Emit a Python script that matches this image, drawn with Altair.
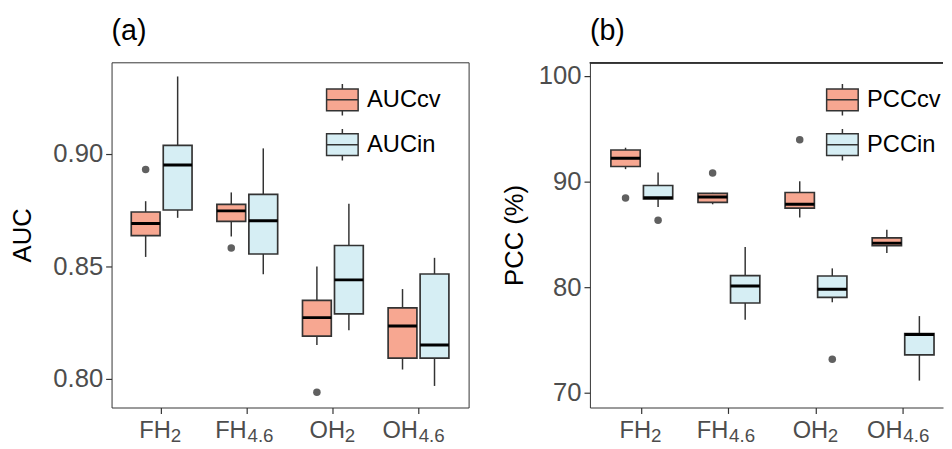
import altair as alt
import pandas as pd

categories = ["FH2", "FH4.6", "OH2", "OH4.6"]
label_main = ["FH", "FH", "OH", "OH"]
label_sub = ["2", "4.6", "2", "4.6"]

# Panel (a): AUC
auc_series = ["AUCcv", "AUCin"]
auccv_low = [0.8541, 0.8632, 0.8149, 0.8040]
auccv_q1 = [0.8636, 0.8699, 0.8189, 0.8091]
auccv_med = [0.8690, 0.8746, 0.8271, 0.8234]
auccv_q3 = [0.8741, 0.8775, 0.8348, 0.8314]
auccv_high = [0.8789, 0.8828, 0.8499, 0.8398]
aucin_low = [0.8715, 0.8464, 0.8215, 0.7967]
aucin_q1 = [0.8750, 0.8554, 0.8288, 0.8091]
aucin_med = [0.8950, 0.8702, 0.8439, 0.8149]
aucin_q3 = [0.9037, 0.8819, 0.8592, 0.8465]
aucin_high = [0.9344, 0.9024, 0.8778, 0.8537]
auc_out_cat = ["FH2", "FH4.6", "OH2"]
auc_out_series = ["AUCcv", "AUCcv", "AUCcv"]
auc_out_val = [0.8930, 0.8581, 0.7939]
auc_ticks = [0.80, 0.85, 0.90]

# Panel (b): PCC (%)
pcc_series = ["PCCcv", "PCCin"]
pcccv_low = [91.18, 87.85, 86.60, 83.24]
pcccv_q1 = [91.43, 88.04, 87.48, 83.93]
pcccv_med = [92.21, 88.54, 87.85, 84.17]
pcccv_q3 = [92.99, 88.88, 88.97, 84.67]
pcccv_high = [93.21, 88.94, 90.03, 85.45]
pccin_low = [87.60, 76.92, 78.57, 71.15]
pccin_q1 = [88.35, 78.50, 79.03, 73.58]
pccin_med = [88.47, 80.12, 79.81, 75.51]
pccin_q3 = [89.63, 81.09, 81.06, 75.61]
pccin_high = [90.87, 83.80, 81.78, 77.26]
pcc_out_cat = ["FH2", "FH2", "FH4.6", "OH2", "OH2"]
pcc_out_series = ["PCCcv", "PCCin", "PCCcv", "PCCcv", "PCCin"]
pcc_out_val = [88.44, 86.33, 90.81, 93.96, 73.18]
pcc_ticks = [70, 80, 90, 100]

FILL = ["#F7A791", "#D6EEF4"]
FONT = "Liberation Sans"
EDGE = "#333333"
LABEL = "#4D4D4D"
LEGEND_PATH = "M-1,-0.69H1V0.69H-1Z M-1,0H1 M0,-0.69V-1 M0,0.69V1"


def label_expr(texts):
    expr = "''"
    for key, txt in zip(reversed(categories), reversed(texts)):
        expr = f"datum.value === '{key}' ? '{txt}' : ({expr})"
    return expr


def offset_cond(fh2, oh2, other):
    return {"condition": [{"test": f"datum.value === '{categories[0]}'", "value": fh2},
                          {"test": f"datum.value === '{categories[2]}'", "value": oh2}],
            "value": other}


def stats_frame(series, arrays):
    rows = []
    for s, (lo, q1, md, q3, hi) in zip(series, arrays):
        for i, c in enumerate(categories):
            rows.append(dict(cat=c, series=s, lo=lo[i], q1=q1[i], med=md[i], q3=q3[i], hi=hi[i]))
    return pd.DataFrame(rows)


def panel(df, out, series, ydomain, yticks, yfmt, ytitle, title, width, xpad, leg_xy,
          framed, tpad):
    xs = alt.Scale(domain=categories, paddingInner=xpad[0], paddingOuter=xpad[1], align=xpad[2])
    xo = alt.Scale(domain=series, paddingInner=0.1, paddingOuter=0)
    ys = alt.Scale(domain=ydomain, nice=False, zero=False)
    xaxis = alt.Axis(title=None, labelFontSize=24, labelColor=LABEL, labelFont=FONT,
                     labelExpr=label_expr(label_main), labelAlign="right",
                     labelOffset=offset_cond(9.4, 12.3, -0.6), labelOverlap=False,
                     tickColor=EDGE, tickSize=6, tickWidth=1.2, labelPadding=5, labelAngle=0,
                     domain=not framed, domainColor=EDGE, domainWidth=1)
    subaxis = alt.Axis(title=None, orient="bottom", labelFontSize=19, labelColor=LABEL,
                       labelFont=FONT, labelExpr=label_expr(label_sub), labelAlign="left",
                       labelOffset=offset_cond(9.2, 12.0, 0.2), labelOverlap=False,
                       ticks=False, tickSize=0, domain=False, labelPadding=19,
                       labelAngle=0)
    yaxis = alt.Axis(values=yticks, format=yfmt, title=ytitle, titleFontSize=26,
                     titleFont=FONT, titleFontWeight="normal", titleColor="black",
                     labelFontSize=26, labelColor=LABEL, labelFont=FONT, grid=False,
                     tickColor=EDGE, tickSize=6, tickWidth=1.2, labelPadding=3,
                     titlePadding=tpad,
                     domain=not framed, domainColor=EDGE, domainWidth=1)
    base = alt.Chart(df).encode(
        x=alt.X("cat:N", scale=xs, axis=xaxis, sort=categories),
        xOffset=alt.XOffset("series:N", scale=xo),
    )
    whisk = base.mark_rule(color=EDGE, strokeWidth=1.5).encode(
        y=alt.Y("lo:Q", scale=ys, axis=yaxis), y2="hi:Q")
    box = base.mark_bar(stroke=EDGE, strokeWidth=1.7).encode(
        y=alt.Y("q1:Q"), y2="q3:Q",
        fill=alt.Fill("series:N", title=None,
                      scale=alt.Scale(domain=series, range=FILL),
                      legend=alt.Legend(orient="none", legendX=leg_xy[0], legendY=leg_xy[1],
                                        symbolType=LEGEND_PATH, symbolSize=1024,
                                        symbolStrokeColor=EDGE, symbolStrokeWidth=1.5,
                                        symbolOpacity=1,
                                        labelFontSize=24, labelFont=FONT, labelColor="black",
                                        labelOffset=8, rowPadding=7.5, padding=0)))
    med = base.mark_bar(stroke="black", strokeWidth=3, fill="black").encode(
        y="med:Q", y2="med:Q")
    pts = alt.Chart(out).mark_circle(color="#606060", size=58, opacity=1).encode(
        x=alt.X("cat:N", scale=xs, sort=categories, axis=subaxis),
        xOffset=alt.XOffset("series:N", scale=xo),
        y="val:Q")
    inner = [whisk, box, med]
    if not framed:
        top = alt.Chart(df).mark_rule(color=EDGE, strokeWidth=1).encode(
            x=alt.value(0), x2=alt.value(width), y=alt.value(0.5))
        inner.append(top)
    ch = alt.layer(alt.layer(*inner), pts).resolve_axis(x="independent").properties(
        width=width, height=350,
        title=alt.TitleParams(title, anchor="start", frame="group", fontSize=29,
                              fontWeight="normal", font=FONT, color="black", offset=17))
    if not framed:
        ch = ch.properties(view=alt.ViewBackground(stroke="transparent"))
    return ch


df_a = stats_frame(auc_series, [
    (auccv_low, auccv_q1, auccv_med, auccv_q3, auccv_high),
    (aucin_low, aucin_q1, aucin_med, aucin_q3, aucin_high)])
out_a = pd.DataFrame(dict(cat=auc_out_cat, series=auc_out_series, val=auc_out_val))
df_b = stats_frame(pcc_series, [
    (pcccv_low, pcccv_q1, pcccv_med, pcccv_q3, pcccv_high),
    (pccin_low, pccin_q1, pccin_med, pccin_q3, pccin_high)])
out_b = pd.DataFrame(dict(cat=pcc_out_cat, series=pcc_out_series, val=pcc_out_val))

pa = panel(df_a, out_a, auc_series, [0.7871, 0.9407], auc_ticks, ".2f", "AUC", "(a)",
           362, (0.29, 0.23, 0.5), (217, 21), True, 18)
pb = panel(df_b, out_b, pcc_series, [68.6, 101.3], pcc_ticks, "d", "PCC (%)", "(b)",
           358, (0.29, 0.172, 0.70), (239, 21), False, 11)

chart = alt.hconcat(pa, pb, spacing=32).resolve_scale(
    fill="independent", x="independent", y="independent", xOffset="independent"
).resolve_legend(fill="independent").configure_view(
    stroke=EDGE, strokeWidth=1
).properties(padding={"left": 0, "top": 5, "right": 0, "bottom": 0})

chart.save("out.html", embed_options={"renderer": "svg", "actions": False})
